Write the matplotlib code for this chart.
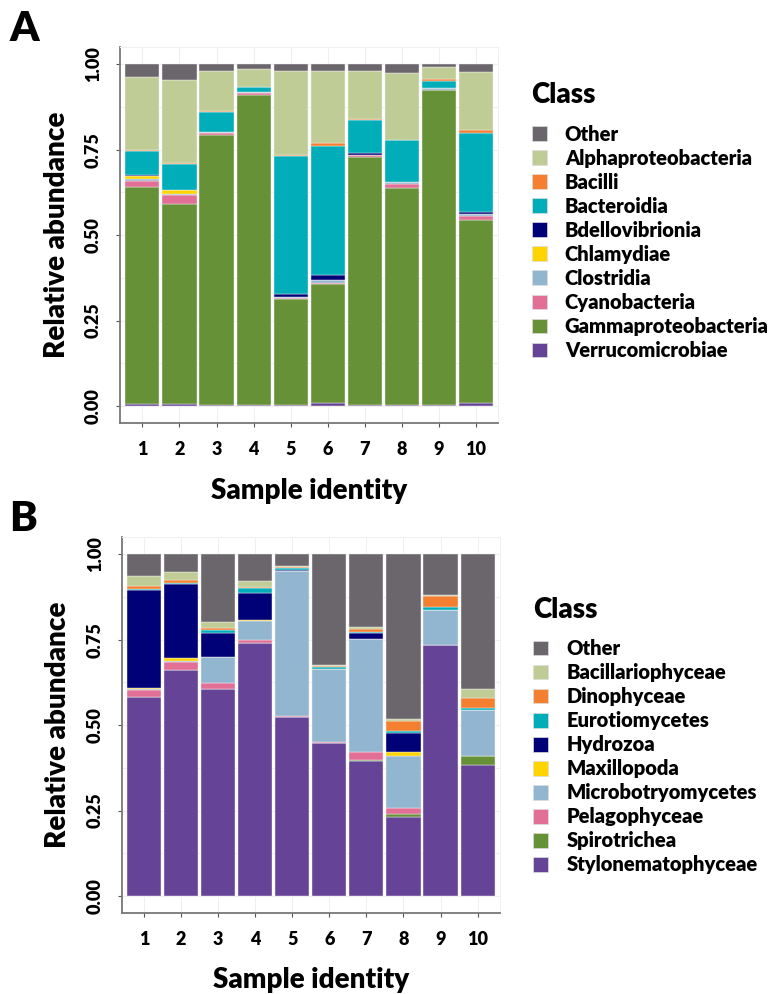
import numpy as np
import matplotlib.pyplot as plt
from matplotlib.patches import Patch

plt.rcParams['font.family'] = ['Lato', 'DejaVu Sans']
plt.rcParams['font.weight'] = 'heavy'

samples = ['1', '2', '3', '4', '5', '6', '7', '8', '9', '10']

# panel A: bacterial classes, stacked bottom -> top
bact_classes = ['Verrucomicrobiae', 'Gammaproteobacteria', 'Cyanobacteria', 'Clostridia',
                'Chlamydiae', 'Bdellovibrionia', 'Bacteroidia', 'Bacilli',
                'Alphaproteobacteria', 'Other']
verrucomicrobiae    = [0.007, 0.007, 0.004, 0.002, 0.004, 0.008, 0.004, 0.003, 0.002, 0.008]
gammaproteobacteria = [0.634, 0.585, 0.790, 0.909, 0.308, 0.348, 0.725, 0.636, 0.924, 0.537]
cyanobacteria       = [0.019, 0.027, 0.005, 0.005, 0.003, 0.003, 0.007, 0.012, 0.000, 0.010]
clostridia          = [0.005, 0.003, 0.004, 0.003, 0.004, 0.009, 0.000, 0.005, 0.006, 0.008]
chlamydiae          = [0.007, 0.009, 0.000, 0.000, 0.000, 0.000, 0.000, 0.000, 0.000, 0.000]
bdellovibrionia     = [0.004, 0.002, 0.000, 0.000, 0.008, 0.015, 0.005, 0.000, 0.000, 0.006]
bacteroidia         = [0.069, 0.075, 0.058, 0.015, 0.404, 0.379, 0.097, 0.122, 0.020, 0.231]
bacilli             = [0.003, 0.003, 0.003, 0.001, 0.003, 0.007, 0.002, 0.002, 0.004, 0.008]
alphaproteobacteria = [0.215, 0.244, 0.117, 0.052, 0.247, 0.212, 0.141, 0.194, 0.037, 0.170]
other_a             = [0.037, 0.045, 0.019, 0.013, 0.019, 0.019, 0.019, 0.026, 0.007, 0.022]
bact_values = [verrucomicrobiae, gammaproteobacteria, cyanobacteria, clostridia, chlamydiae,
               bdellovibrionia, bacteroidia, bacilli, alphaproteobacteria, other_a]

# panel B: eukaryotic classes, stacked bottom -> top
euk_classes = ['Stylonematophyceae', 'Spirotrichea', 'Pelagophyceae', 'Microbotryomycetes',
               'Maxillopoda', 'Hydrozoa', 'Eurotiomycetes', 'Dinophyceae',
               'Bacillariophyceae', 'Other']
stylonematophyceae = [0.581, 0.662, 0.605, 0.741, 0.524, 0.448, 0.395, 0.230, 0.736, 0.383]
spirotrichea       = [0.000, 0.000, 0.000, 0.000, 0.000, 0.000, 0.003, 0.010, 0.000, 0.027]
pelagophyceae      = [0.021, 0.023, 0.017, 0.008, 0.003, 0.003, 0.022, 0.016, 0.000, 0.000]
microbotryomycetes = [0.003, 0.003, 0.076, 0.056, 0.424, 0.214, 0.332, 0.154, 0.101, 0.133]
maxillopoda        = [0.003, 0.008, 0.000, 0.003, 0.000, 0.000, 0.000, 0.012, 0.000, 0.000]
hydrozoa           = [0.287, 0.217, 0.072, 0.080, 0.003, 0.000, 0.018, 0.054, 0.000, 0.000]
eurotiomycetes     = [0.003, 0.002, 0.009, 0.014, 0.007, 0.006, 0.003, 0.006, 0.009, 0.007]
dinophyceae        = [0.009, 0.010, 0.004, 0.003, 0.002, 0.002, 0.007, 0.029, 0.031, 0.030]
bacillariophyceae  = [0.029, 0.022, 0.020, 0.017, 0.004, 0.002, 0.006, 0.008, 0.004, 0.027]
other_b            = [0.064, 0.053, 0.197, 0.078, 0.033, 0.325, 0.214, 0.481, 0.119, 0.393]
euk_values = [stylonematophyceae, spirotrichea, pelagophyceae, microbotryomycetes, maxillopoda,
              hydrozoa, eurotiomycetes, dinophyceae, bacillariophyceae, other_b]

# same palette for both panels, bottom -> top
palette = ['#654397', '#679136', '#e27096', '#93b6d0', '#ffd400',
           '#000077', '#00adb8', '#f47f30', '#bfcc96', '#6b666c']


def stacked_panel(ax, names, values, letter, y_letter, leg_y):
    x = np.arange(1, len(samples) + 1)
    bottom = np.zeros(len(samples))
    for name, vals, col in zip(names, values, palette):
        ax.bar(x, vals, bottom=bottom, width=0.92, color=col, edgecolor='#f4f4f4',
               linewidth=0.3, zorder=3)
        bottom += np.array(vals)

    ax.set_xlim(0.4, len(samples) + 0.6)
    ax.set_ylim(-0.05, 1.05)
    ax.set_xticks(x)
    ax.set_xticklabels(samples, fontsize=13, fontweight='heavy')
    ax.set_yticks([0, 0.25, 0.5, 0.75, 1.0])
    ax.set_yticklabels(['0.00', '0.25', '0.50', '0.75', '1.00'], rotation=90,
                       va='center', fontsize=13, fontweight='heavy')
    ax.set_yticks([0.125, 0.375, 0.625, 0.875], minor=True)
    ax.grid(True, which='both', color='#efefef', linewidth=0.8, zorder=0)
    ax.tick_params(axis='both', which='major', length=3, color='#555555', pad=10)
    ax.tick_params(axis='y', which='minor', length=0)
    for side in ['top', 'right']:
        ax.spines[side].set_color('#f0f0f0')
    for side in ['left', 'bottom']:
        ax.spines[side].set_color('#777777')
        ax.spines[side].set_linewidth(1.3)
    ax.set_xlabel('Sample identity', fontsize=20, fontweight='heavy', labelpad=14)
    ax.set_ylabel('Relative abundance', fontsize=20, fontweight='heavy', labelpad=11)

    # legend lists the classes top -> bottom
    handles = [Patch(facecolor=c, edgecolor='#dddddd', linewidth=0.5)
               for c in palette[::-1]]
    leg = ax.legend(handles, names[::-1], title='Class\n', loc='upper left',
                    bbox_to_anchor=(1.04, leg_y), frameon=False, fontsize=14.5,
                    title_fontsize=20, handlelength=0.75, handleheight=0.75,
                    handletextpad=0.9, labelspacing=0.25)
    leg.get_title().set_fontweight('heavy')
    leg.get_title().set_linespacing(0.3)
    leg._legend_box.align = 'left'
    for t in leg.get_texts():
        t.set_fontweight('heavy')

    ax.figure.text(0.012, y_letter, letter, fontsize=30, fontweight='heavy', va='top')


fig = plt.figure(figsize=(7.75, 9.94), dpi=100)
ax1 = fig.add_axes([0.155, 0.5744, 0.488, 0.378])
ax2 = fig.add_axes([0.157, 0.0815, 0.488, 0.378])

stacked_panel(ax1, bact_classes, bact_values, 'A', 0.99, 0.955)
stacked_panel(ax2, euk_classes, euk_values, 'B', 0.497, 0.89)

plt.savefig('out.png', dpi=100)
